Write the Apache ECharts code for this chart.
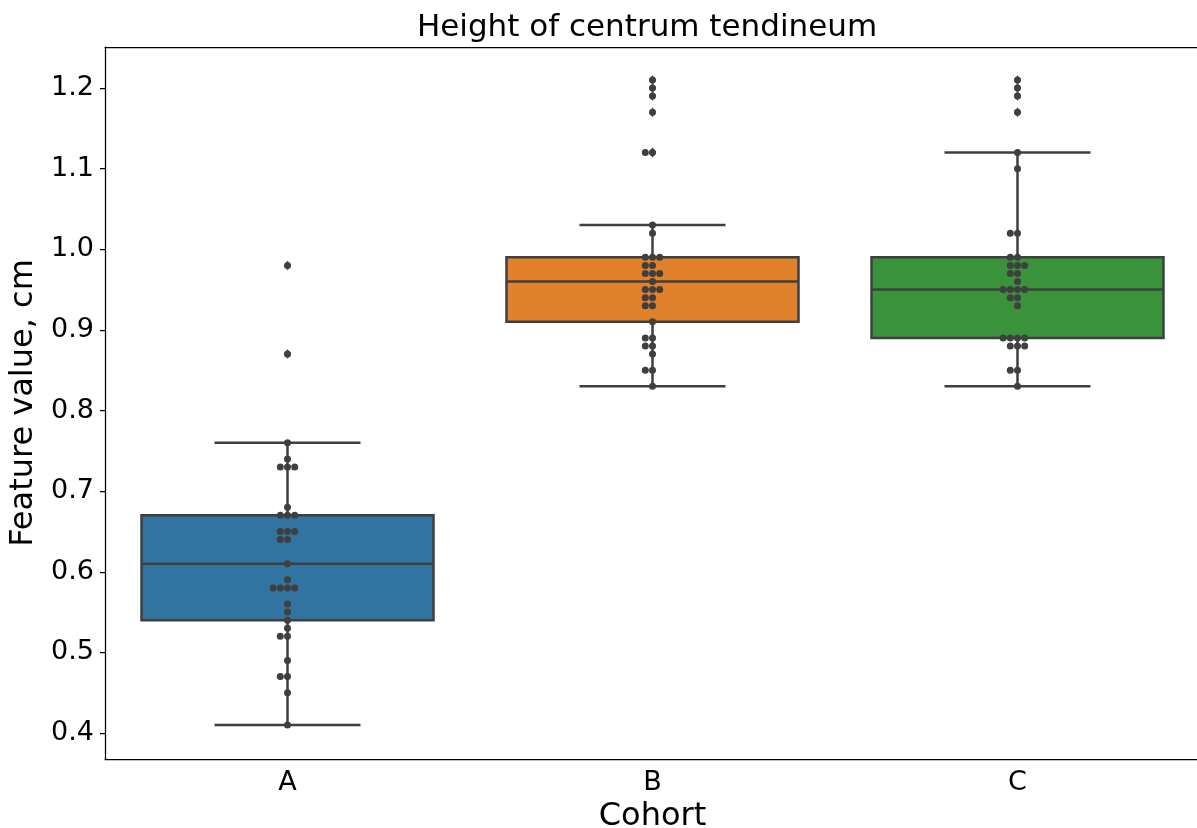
<!DOCTYPE html>
<html>
<head>
<meta charset="utf-8">
<script src="https://cdn.jsdelivr.net/npm/echarts@6/dist/echarts.min.js"></script>
<style>
  html, body { margin: 0; padding: 0; background: #fff; }
  #chart { width: 1197px; height: 828px; }
</style>
</head>
<body>
<div id="chart"></div>
<script>
const cohorts = ['A', 'B', 'C']
const cohortA = [0.98, 0.87, 0.76, 0.74, 0.73, 0.73, 0.73, 0.68, 0.67, 0.67, 0.67, 0.65, 0.65, 0.65, 0.64, 0.64, 0.61,
  0.59, 0.58, 0.58, 0.58, 0.58, 0.56, 0.55, 0.54, 0.53, 0.52, 0.52, 0.49, 0.47, 0.47, 0.45, 0.41]
const cohortB = [1.21, 1.20, 1.19, 1.17, 1.12, 1.12, 1.03, 1.02, 0.99, 0.99, 0.99, 0.98, 0.98, 0.97, 0.97, 0.97, 0.96,
  0.95, 0.95, 0.95, 0.94, 0.94, 0.93, 0.93, 0.91, 0.89, 0.89, 0.88, 0.88, 0.87, 0.85, 0.85, 0.83]
const cohortC = [1.21, 1.20, 1.19, 1.17, 1.12, 1.10, 1.02, 1.02, 0.99, 0.99, 0.98, 0.98, 0.98, 0.97, 0.97, 0.96, 0.95,
  0.95, 0.95, 0.95, 0.94, 0.94, 0.93, 0.89, 0.89, 0.89, 0.89, 0.88, 0.88, 0.88, 0.85, 0.85, 0.83]
const yTicks = [0.4, 0.5, 0.6, 0.7, 0.8, 0.9, 1.0, 1.1, 1.2]

const groups = [cohortA, cohortB, cohortC]
const boxColors = ['#3274a1', '#e1812c', '#3a923a']
const edge = '#3f3f3f'
const font = 'DejaVu Sans'

// plot area (px)
const gridLeft = 105
const gridTop = 47
const gridW = 1095
const gridH = 712
const yMin = 0.3678
const yMax = 1.2509

function quantile(sorted, p) {
  const pos = (sorted.length - 1) * p
  const lo = Math.floor(pos)
  const hi = Math.ceil(pos)
  return sorted[lo] + (sorted[hi] - sorted[lo]) * (pos - lo)
}

// box stats: [index, whiskerLow, q1, median, q3, whiskerHigh]
const boxData = []
const fliers = []
groups.forEach((vals, i) => {
  const s = vals.slice().sort((a, b) => a - b)
  const q1 = quantile(s, 0.25)
  const med = quantile(s, 0.5)
  const q3 = quantile(s, 0.75)
  const iqr = q3 - q1
  const inside = s.filter((v) => v >= q1 - 1.5 * iqr - 1e-9 && v <= q3 + 1.5 * iqr + 1e-9)
  boxData.push([i, inside[0], q1, med, q3, inside[inside.length - 1]])
  s.forEach((v) => {
    if (v < inside[0] || v > inside[inside.length - 1]) fliers.push([i, v])
  })
})

// beeswarm like seaborn, in pixel space
const band = gridW / cohorts.length
const pxPerUnit = gridH / (yMax - yMin)
const r = 3.43
function swarm(vals) {
  const s = vals.slice().sort((a, b) => a - b)
  const placed = []
  s.forEach((v) => {
    const y = v * pxPerUnit
    const near = placed.filter((p) => Math.abs(p.y - y) < 2 * r)
    const cands = [0]
    near.forEach((p) => {
      const dy = y - p.y
      const dx = Math.sqrt(Math.max(4 * r * r - dy * dy, 0)) * 1.05
      cands.push(p.x - dx, p.x + dx)
    })
    const order = cands.map((x, k) => [x, k]).sort((a, b) => Math.abs(a[0]) - Math.abs(b[0]) || a[1] - b[1])
    let x = 0
    for (const [cx] of order) {
      const ok = near.every((p) => Math.hypot(p.x - cx, p.y - y) >= 2 * r - 1e-6)
      if (ok) { x = cx; break }
    }
    placed.push({ x, y, v })
  })
  return placed
}
const swarmData = []
groups.forEach((vals, i) => {
  swarm(vals).forEach((p) => swarmData.push([i + p.x / band, p.v]))
})

const chart = echarts.init(document.getElementById('chart'))
chart.setOption({
  animation: false,
  backgroundColor: '#fff',
  title: {
    text: 'Height of centrum tendineum',
    left: 642,
    textAlign: 'center',
    top: 7,
    textStyle: { fontFamily: font, fontSize: 31, fontWeight: 'normal', color: '#000' }
  },
  grid: {
    left: gridLeft,
    top: gridTop,
    width: gridW,
    height: gridH,
    containLabel: false,
    outerBoundsMode: 'none'
  },
  xAxis: [
    {
      type: 'category',
      data: cohorts,
      name: 'Cohort',
      nameLocation: 'middle',
      nameGap: 36,
      nameTextStyle: { fontFamily: font, fontSize: 32, color: '#000', verticalAlign: 'top' },
      axisLine: { lineStyle: { color: '#000', width: 1.25 } },
      axisTick: { alignWithLabel: true, length: 5, lineStyle: { color: '#000', width: 1.25 } },
      axisLabel: { fontFamily: font, fontSize: 27, color: '#000', margin: 10 },
      splitLine: { show: false }
    },
    {
      type: 'value',
      min: -0.5,
      max: 2.5,
      show: false
    },
    {
      // top spine
      type: 'category',
      data: cohorts,
      position: 'top',
      axisLine: { show: true, lineStyle: { color: '#000', width: 1.25 } },
      axisTick: { show: false },
      axisLabel: { show: false },
      splitLine: { show: false }
    }
  ],
  yAxis: {
    type: 'value',
    min: yMin,
    max: yMax,
    name: 'Feature value, cm',
    nameLocation: 'middle',
    nameGap: 57,
    nameRotate: 90,
    nameTextStyle: { fontFamily: font, fontSize: 32, color: '#000' },
    axisLine: { show: true, onZero: false, lineStyle: { color: '#000', width: 1.25 } },
    axisTick: { show: true, length: 5, customValues: yTicks, lineStyle: { color: '#000', width: 1.25 } },
    axisLabel: {
      fontFamily: font,
      fontSize: 27,
      color: '#000',
      margin: 11,
      customValues: yTicks,
      formatter: (v) => v.toFixed(1)
    },
    splitLine: { show: false }
  },
  series: [
    {
      type: 'custom',
      xAxisIndex: 0,
      data: boxData,
      encode: { x: 0, y: [1, 2, 3, 4, 5] },
      z: 2,
      renderItem(params, api) {
        const i = api.value(0)
        const bw = api.size([1, 0])[0]
        const x = api.coord([i, api.value(3)])[0]
        const yOf = (v) => api.coord([i, v])[1]
        const lo = api.value(1)
        const q1 = api.value(2)
        const med = api.value(3)
        const q3 = api.value(4)
        const hi = api.value(5)
        const half = bw * 0.4
        const cap = bw * 0.2
        const ls = { stroke: edge, lineWidth: 2.5 }
        const seg = (x1, y1, x2, y2) => ({ type: 'line', shape: { x1, y1, x2, y2 }, style: ls })
        return {
          type: 'group',
          children: [
            seg(x, yOf(q3), x, yOf(hi)),
            seg(x, yOf(q1), x, yOf(lo)),
            seg(x - cap, yOf(hi), x + cap, yOf(hi)),
            seg(x - cap, yOf(lo), x + cap, yOf(lo)),
            {
              type: 'rect',
              shape: { x: x - half, y: yOf(q3), width: 2 * half, height: yOf(q1) - yOf(q3) },
              style: { fill: boxColors[i], stroke: edge, lineWidth: 2.5 }
            },
            seg(x - half, yOf(med), x + half, yOf(med))
          ]
        }
      }
    },
    {
      type: 'scatter',
      xAxisIndex: 1,
      data: fliers,
      symbol: 'diamond',
      symbolSize: [7, 10],
      itemStyle: { color: edge },
      z: 3
    },
    {
      type: 'scatter',
      xAxisIndex: 1,
      data: swarmData,
      symbolSize: 7,
      itemStyle: { color: edge, opacity: 1 },
      z: 4
    }
  ]
})
</script>
</body>
</html>
